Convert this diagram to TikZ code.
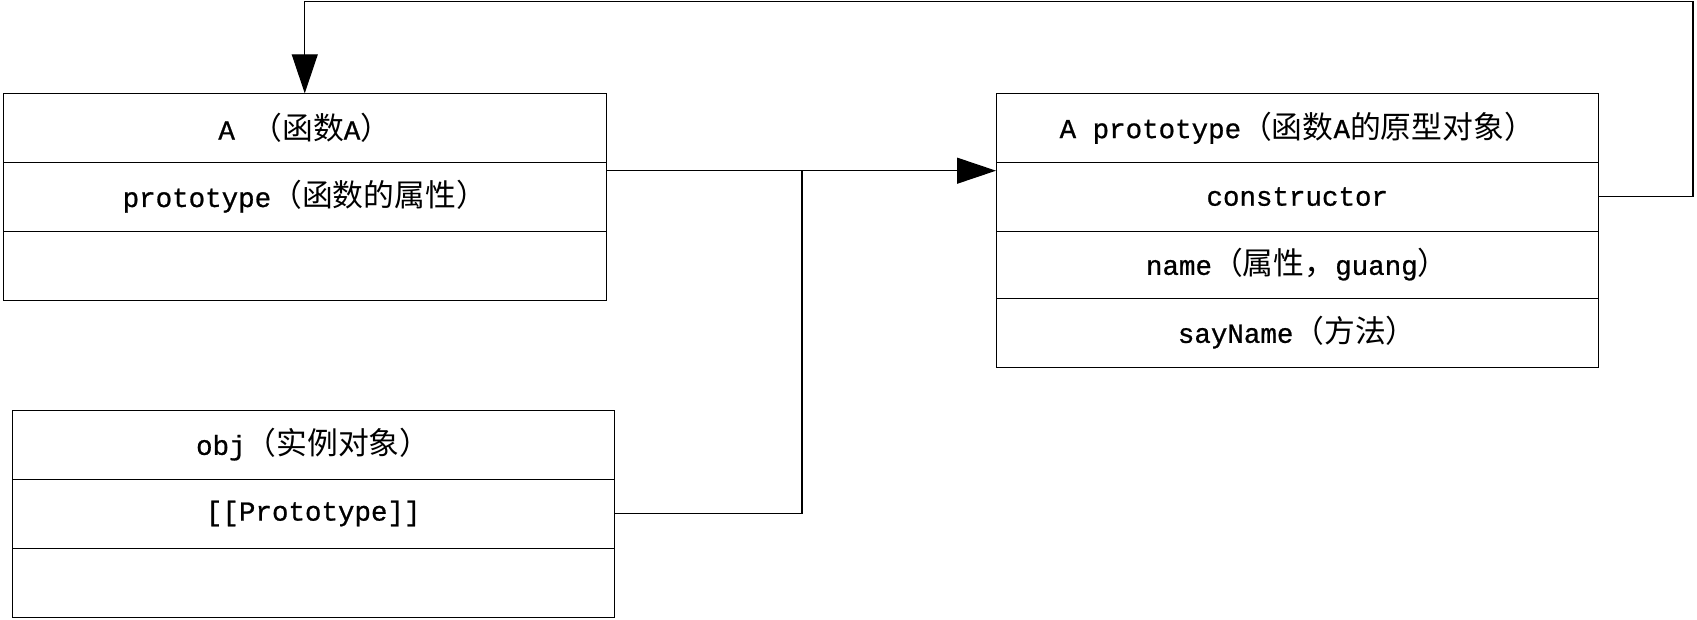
\documentclass[tikz,border=0pt]{standalone}
\usepackage{fontspec}
\setmainfont[FakeBold=0.8]{Liberation Mono}
\newfontfamily\cjkfont[Scale=1.12]{Noto Sans CJK SC}
\newcommand\zhtxt[1]{{\cjkfont #1}}
\usetikzlibrary{arrows.meta}
\begin{document}
\begin{tikzpicture}[x=1pt,y=-1pt,
  rowbox/.style={draw=black,line width=1pt,rectangle,inner sep=0pt,outer sep=0pt,
    anchor=north west,minimum width=602.5pt,font=\fontsize{27.5}{32}\selectfont},
  conn/.style={draw=black,line width=1.2pt},
  tip/.style={-{Triangle[length=39pt,width=26pt]}}]
\useasboundingbox (0,0) rectangle (1697,619);
% Box A
\node[rowbox,minimum height=69pt] (a1) at (3.5,93.3) {A \zhtxt{（函数}A\zhtxt{）}};
\node[rowbox,minimum height=68.7pt] (a2) at (3.5,162.3) {prototype\zhtxt{（函数的属性）}};
\node[rowbox,minimum height=69pt] (a3) at (3.5,231) {};
% Box prototype
\node[rowbox,minimum height=69pt] (p1) at (996,93.3) {A prototype\zhtxt{（函数}A\zhtxt{的原型对象）}};
\node[rowbox,minimum height=68.7pt] (p2) at (996,162.3) {constructor};
\node[rowbox,minimum height=67pt] (p3) at (996,231) {name\zhtxt{（属性，}guang\zhtxt{）}};
\node[rowbox,minimum height=69pt] (p4) at (996,298) {sayName\zhtxt{（方法）}};
% Box obj
\node[rowbox,minimum height=69pt] (o1) at (12,410) {obj\zhtxt{（实例对象）}};
\node[rowbox,minimum height=69pt] (o2) at (12,479) {[[Prototype]]};
\node[rowbox,minimum height=69pt] (o3) at (12,548) {};
% connectors
\coordinate (j) at (802,170.7);
\coordinate (tr) at (1693,1.3);
\draw[conn,tip] ([yshift=-8.4pt]a2.north east) -- ([yshift=-8.4pt]p2.north west);
\draw[conn] (o2.east) -| (j);
\draw[conn,tip] (p2.east) -| (tr) -| (a1.north);
\end{tikzpicture}
\end{document}
